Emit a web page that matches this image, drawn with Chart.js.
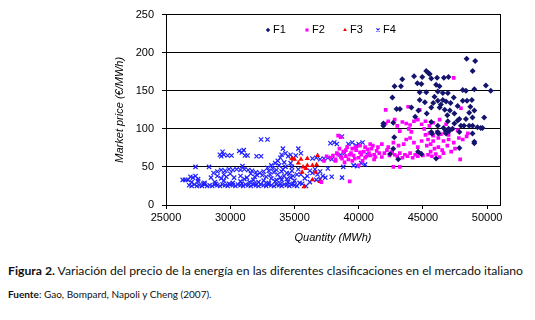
<!DOCTYPE html>
<html>
<head>
<meta charset="utf-8">
<script src="https://cdn.jsdelivr.net/npm/chart.js@4.4.1/dist/chart.umd.min.js"></script>
<style>
  body{margin:0;background:#fff;width:535px;height:320px;overflow:hidden;}
  #wrap{position:absolute;left:0;top:0;width:535px;height:250px;}
  .cap{position:absolute;left:8px;font-family:Lato,"Noto Sans",sans-serif;color:#111;white-space:nowrap;}
  #cap1{top:263px;font-size:12.2px;}
  #cap2{top:288px;font-size:10px;}
</style>
</head>
<body>
<div id="wrap"><canvas id="c" width="535" height="250"></canvas></div>
<div class="cap" id="cap1"><b>Figura 2.</b> Variación del precio de la energía en las diferentes clasificaciones en el mercado italiano</div>
<div class="cap" id="cap2"><b>Fuente</b>: Gao, Bompard, Napoli y Cheng (2007).</div>
<script>
// ejes
const xTicks = [25000,30000,35000,40000,45000,50000];
const yTicks = [0,50,100,150,200,250];
const seriesNames = ['F1','F2','F3','F4'];

// F1 [cantidad MWh, precio €/MWh]
const F1 = [[48870,176],[49900,157],[50280,150],[43390,165],[42790,156],[43290,156],[44310,169],[44950,168],
  [45520,172],[45650,166],[44570,160],[44880,159],[46100,167],[46630,167],[46990,168],[46030,158],[46290,156],
  [48100,151],[48350,150],[49000,152],[44750,148],[45260,148],[46160,149],[46550,147],[46940,147],[42620,141],
  [44750,138],[45150,135],[45800,134],[46160,137],[46550,138],[46800,136],[47150,134],[48100,137],[48430,137],
  [48810,138],[48690,129],[49000,124],[42950,126],[43210,126],[44100,128],[44650,124],[45650,128],[46300,128],
  [46700,125],[47100,124],[47450,120],[47840,113],[48350,113],[48860,115],[49770,115],[41920,107],[42690,108],
  [45650,109],[46160,104],[46940,110],[47450,107],[47700,111],[47960,104],[48870,104],[49250,102],[45650,96],
  [46160,96],[46800,97],[47050,97],[47840,96],[48860,94],[49500,101],[49000,83],[42770,89],[41920,104],
  [42690,74],[43080,60],[42440,67],[44620,70],[44880,67],[46030,61],[47840,75],[49000,81],[49640,101],
  [45700,94],[46200,94],[46800,94],[47300,100],[47000,100],[46600,101],[48200,104],[48600,104],
  [48400,192],[49070,189],[45260,176],[45450,173],
  [45900,142],[46400,132],[47400,141],[47700,130],[48600,121],[45300,120],[44400,116],[46900,118]];

// F2
const F2 = [[37100,30],[39300,31],[38400,91],[38600,89],[37800,62],[38000,65],[38200,60],[38400,66],[38600,63],
  [38800,70],[39000,64],[39200,60],[39400,68],[39600,65],[39800,72],[39740,76],[40000,62],[40200,66],[40400,70],
  [40600,64],[40800,68],[41000,74],[41200,66],[41400,71],[40100,78],[40500,76],[40900,80],[38200,58],[38900,56],
  [39500,58],[41200,60],[40300,58],[38500,74],[39100,76],[40000,52],[37500,64],[37300,58],
  [38300,68],[38700,61],[39300,66],[39700,61],[40100,69],[40500,62],[40900,65],[41300,63],[41600,68],[41500,76],
  [39000,72],[39500,74],[40700,73],[41100,78],
  [41800,80],[41800,63],[42000,68],[42200,72],[42400,65],[42600,70],[42800,66],[43000,64],[43200,68],[43400,62],
  [43600,66],[43800,64],[44000,68],[44200,62],[44400,66],[44600,64],[44800,68],[45000,65],[42300,76],[42700,82],
  [43100,78],[43500,80],[43700,86],[44000,88],[44300,82],[44600,76],[44900,84],[42700,50],[43200,50],[42100,125],
  [43850,129],[44750,125],[42100,107],[42300,110],[42800,112],[43400,109],[43700,107],[44000,105],[44300,110],
  [44600,112],[44900,106],[43000,104],[43200,97],[43900,100],[44100,96],
  [45200,92],[45500,94],[45800,91],[46100,96],[46400,93],[46700,95],[47000,92],[45300,78],[45600,80],[45900,74],
  [46200,76],[46500,72],[45400,66],[45700,64],[46000,67],[46300,63],[46600,68],[47200,70],[47500,74],[47800,88],
  [48100,86],[48400,90],[47400,167],[47960,127],[45200,110],[45500,104],[45800,108],[46300,112],[46800,106],
  [47300,100],[47700,98],[48500,94],[47900,60],[45100,100],
  [45400,86],[45800,84],[46200,88],[46600,84],[47000,86],[47400,82],[45600,70],[46900,78]];

// F3
const F3 = [[35000,60],[35500,60],[36000,61],[35670,50],[36000,52],[36400,52],[36730,53],[35600,43],[36650,43],
  [36400,33],[35750,24],[37000,31],[36800,65],[35900,48],[35300,55],[34800,61]];

// F4
const F4 = [[26800,26],[27000,25],[27200,27],[27400,25],[27600,26],[27800,25],[28000,27],[28200,25],[28400,26],
  [28600,25],[28800,27],[29000,26],[29200,25],[29400,27],[29600,26],[29800,25],[30000,27],[30200,26],[30400,25],
  [30600,27],[30800,26],[31000,25],[31200,27],[31400,26],[31600,25],[31800,27],[32000,26],[32200,25],[32400,27],
  [32600,26],[32800,25],[33000,27],[33200,26],[33400,25],[33600,27],[33800,26],[34000,25],[34200,27],[34400,26],
  [34600,25],[34800,27],[35000,26],[35200,25],
  [27000,30],[27500,31],[28000,29],[28800,30],[29500,32],[30200,29],[30800,31],[31500,30],[31800,33],[32200,30],
  [32600,32],[33000,29],[33500,31],[34000,33],[34500,30],[35000,32],[35400,29],
  [26300,33],[26500,33],[26700,33],[26900,37],[27100,36],[27300,38],[27500,34],
  [28500,36],[29000,38],[29300,35],[29700,37],[30300,36],[30800,38],[31300,36],[31900,37],[32500,39],[33200,35],
  [33700,40],[34200,38],[34700,36],[35200,40],
  [28700,42],[29000,44],[29300,46],[29600,45],[29900,47],[30200,46],[30500,47],[30800,46],[31100,47],[31400,46],
  [31700,45],[32000,43],[32300,42],[32600,44],[33000,45],[33300,48],[33600,46],[34000,44],[34400,42],[34800,45],
  [27300,50],[28350,50],[30950,51],[32900,49],[33200,52],[34300,50],[34800,50],
  [29200,66],[29400,70],[29500,66],[29300,64],[29800,65],[30100,65],[30700,71],[30900,69],[31050,72],[31150,65],
  [31350,65],[32050,64],[32400,64],[33500,55],[33700,58],[33900,62],[34000,66],[34100,74],[34300,68],[34500,64],
  [34700,66],[34900,61],[35100,65],[35300,74],[35500,68],[33800,52],[34200,56],[32400,86],[32900,86],
  [35500,40],[35800,35],[36000,38],[36200,45],[36400,42],[36600,47],[36800,40],[37000,44],[37200,38],[37400,36],
  [37000,34],[36700,33],[37900,37],[38700,36],[38800,50],[36400,61],[36700,62],[37000,60],[37300,61],[37600,62],
  [37900,60],[37800,81],[38100,82],[38300,80],[38700,90],[39200,80],[39500,82],[39800,78],[40000,80],[40300,82],
  [39600,52],[39900,51],[40200,55],[40500,53],[37600,48],[36200,30],[35600,28],[35900,25],[40700,66],[38600,66],
  [38900,68],
  [27900,28],[28900,28],[29900,28],[30900,28],[31900,28],[32900,28],[33900,28],[34900,28],
  [33100,40],[33900,36],[34400,34],[34900,38],[33400,43],[34100,47],
  [31600,41],[32100,39],[32800,37],[31100,34],[30000,41],[29500,40],[33600,33],[34600,41],[35300,47],[34700,55]];

const toPts = arr => arr.map(p => ({x:p[0], y:p[1]}));
const axisFont = {family:'"Liberation Sans", Arial, sans-serif', size:11};
const titleFont = {family:'"Liberation Sans", Arial, sans-serif', size:11, style:'italic'};

// leyenda dentro del área del gráfico, en una fila
const insideLegend = {
  id:'insideLegend',
  afterDraw(chart){
    const c = chart.ctx;
    const y = 30;
    const xs = [268, 307, 345, 378];
    c.save();
    c.font = '11px "Liberation Sans", Arial, sans-serif';
    c.textBaseline = 'middle';
    chart.data.datasets.forEach((ds, i) => {
      c.fillStyle = ds.backgroundColor;
      c.strokeStyle = ds.borderColor;
      c.lineWidth = ds.borderWidth || 1;
      Chart.helpers.drawPoint(c, {pointStyle:ds.pointStyle, radius:2.2, rotation:0, borderWidth:ds.borderWidth}, xs[i], y);
      c.fillStyle = '#000';
      c.fillText(ds.label, xs[i] + 5, y);
    });
    c.restore();
  }
};

const ctx = document.getElementById('c').getContext('2d');
new Chart(ctx, {
  type:'scatter',
  data:{
    datasets:[
      {label:seriesNames[0], data:toPts(F1), pointStyle:'rectRot', radius:3, backgroundColor:'#14146e', borderColor:'#14146e', borderWidth:0},
      {label:seriesNames[1], data:toPts(F2), pointStyle:'rect', radius:2.6, backgroundColor:'#ff00ff', borderColor:'#ff00ff', borderWidth:0},
      {label:seriesNames[2], data:toPts(F3), pointStyle:'triangle', radius:3, backgroundColor:'#ff0000', borderColor:'#ff0000', borderWidth:0},
      {label:seriesNames[3], data:toPts(F4), pointStyle:'crossRot', radius:3, backgroundColor:'#1f1fff', borderColor:'#1f1fff', borderWidth:1.2}
    ]
  },
  options:{
    responsive:false,
    animation:false,
    devicePixelRatio:1,
    layout:{padding:{left:0, right:35, top:13, bottom:0}},
    plugins:{
      tooltip:{enabled:false},
      legend:{display:false}
    },
    scales:{
      x:{
        type:'linear', min:25000, max:51000,
        afterBuildTicks: s => { s.ticks = xTicks.map(v => ({value:v})); },
        afterFit: s => { s.height = 45; },
        ticks:{color:'#000', font:axisFont, padding:2, maxRotation:0, callback:v => String(v)},
        grid:{display:true, drawOnChartArea:false, drawTicks:true, tickLength:4, color:'#000'},
        border:{color:'#000'},
        title:{display:true, text:'Quantity (MWh)', color:'#000', font:titleFont, padding:{top:0, bottom:5}}
      },
      y:{
        min:0, max:250,
        afterBuildTicks: s => { s.ticks = yTicks.map(v => ({value:v})); },
        afterFit: s => { s.width = 166; },
        ticks:{color:'#000', font:axisFont, padding:8},
        grid:{color:'#000', tickLength:4},
        border:{color:'#000'},
        title:{display:true, text:'Market price (€/MWh)', color:'#000', font:titleFont, padding:{top:113, bottom:0}}
      },
      y2:{
        position:'right', min:0, max:250,
        afterFit: s => { s.width = 0; },
        ticks:{display:false},
        grid:{drawOnChartArea:false, drawTicks:false},
        border:{color:'#000'}
      }
    }
  },
  plugins:[insideLegend]
});
</script>
</body>
</html>
